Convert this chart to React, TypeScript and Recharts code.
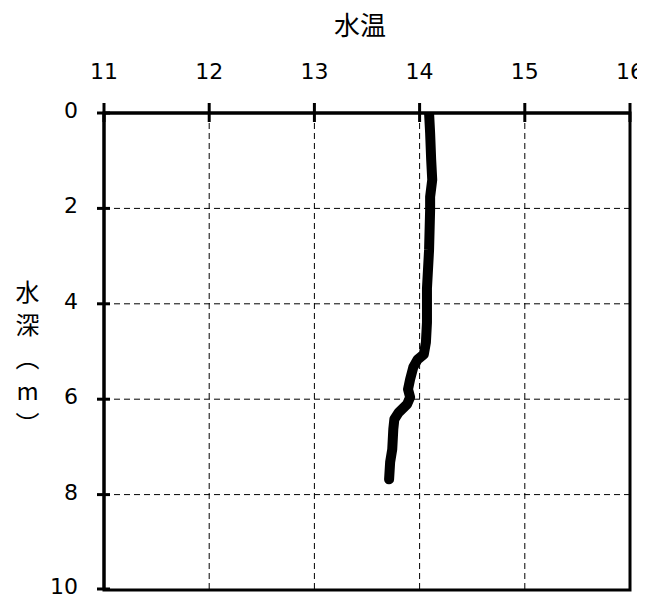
import React from 'react';
import { ScatterChart, Scatter, XAxis, YAxis, CartesianGrid, ReferenceArea } from 'recharts';

const depths = [0, 0.42, 0.98, 1.4, 1.76, 2.03, 2.87, 3.68, 4.39, 4.81, 5.06, 5.17, 5.33, 5.58, 5.79, 5.96, 6.11, 6.28, 6.42, 6.63, 7.05, 7.32, 7.68];
const temps = [14.09, 14.1, 14.11, 14.12, 14.1, 14.1, 14.09, 14.07, 14.07, 14.06, 14.04, 13.98, 13.94, 13.91, 13.89, 13.91, 13.88, 13.8, 13.76, 13.75, 13.74, 13.72, 13.71];
const xTicks = [11, 12, 13, 14, 15, 16];
const yTicks = [0, 2, 4, 6, 8, 10];
const title = '水温';
const yLabel = '水深（m）';

const data = depths.map((d, i) => ({ depth: d, temp: temps[i] }));

const FONT = '"DejaVu Sans", "Noto Sans CJK JP", sans-serif';
const CJK = '"Noto Sans CJK JP", "DejaVu Sans", sans-serif';

const XTick = (props: any) => {
  const { x, y, payload } = props;
  return (
    <g>
      <line x1={x} x2={x} y1={y - 10} y2={y + 9} stroke="#000" strokeWidth={3} />
      <text x={x} y={y - 34} textAnchor="middle" fontSize={22} fontFamily={FONT} fill="#000">
        {payload.value}
      </text>
    </g>
  );
};

const YTick = (props: any) => {
  const { x, y, payload } = props;
  return (
    <g>
      <line x1={x - 7} x2={x + 6} y1={y} y2={y} stroke="#000" strokeWidth={3} />
      <text x={x - 26} y={y + 5} textAnchor="end" fontSize={22} fontFamily={FONT} fill="#000">
        {payload.value}
      </text>
    </g>
  );
};

export default function App() {
  return (
    <div style={{ position: 'relative', width: 640, height: 590 }}>
      <style>{'html{overflow:hidden} .recharts-wrapper,.recharts-surface{overflow:visible !important}'}</style>
      <div
        style={{
          position: 'absolute',
          left: 252,
          width: 200,
          top: 1,
          textAlign: 'center',
          fontSize: 26,
          lineHeight: '30px',
          fontFamily: CJK,
          color: '#000',
        }}
      >
        {title}
      </div>
      <div
        style={{
          position: 'absolute',
          left: 3,
          width: 32,
          top: 272,
          writingMode: 'vertical-rl',
          textOrientation: 'upright',
          letterSpacing: '9px',
          fontSize: 24,
          lineHeight: '32px',
          fontFamily: CJK,
          color: '#000',
        }}
      >
        {yLabel}
      </div>
      <ScatterChart width={640} height={590} margin={{ top: 0, right: 18, bottom: 8, left: 0 }}>
        <CartesianGrid stroke="#000" strokeDasharray="6 4" strokeWidth={1} />
        <XAxis
          type="number"
          dataKey="temp"
          orientation="top"
          domain={[11, 16]}
          ticks={xTicks}
          height={105}
          tickSize={0}
          tickMargin={0}
          axisLine={{ stroke: '#000', strokeWidth: 3 }}
          tickLine={false}
          tick={<XTick />}
          allowDataOverflow
        />
        <YAxis
          type="number"
          dataKey="depth"
          reversed
          domain={[0, 10]}
          ticks={yTicks}
          width={96}
          tickSize={0}
          tickMargin={0}
          axisLine={{ stroke: '#000', strokeWidth: 3 }}
          tickLine={false}
          tick={<YTick />}
          allowDataOverflow
        />
        <ReferenceArea x1={11} x2={16} y1={0} y2={10} fill="none" stroke="#000" strokeWidth={3} ifOverflow="visible" />
        <Scatter
          data={data}
          isAnimationActive={false}
          line={{ stroke: '#000', strokeWidth: 10, strokeLinecap: 'round', strokeLinejoin: 'round' } as any}
          lineType="joint"
          shape={() => null}
        />
      </ScatterChart>
    </div>
  );
}
